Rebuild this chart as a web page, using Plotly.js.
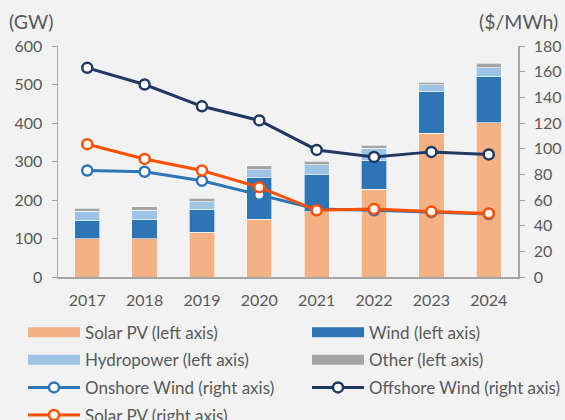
<!DOCTYPE html>
<html><head><meta charset="utf-8">
<script src="https://cdn.plot.ly/plotly-3.0.1.min.js"></script>
<style>html,body{margin:0;padding:0;background:#f2f2f2;}</style>
</head><body><div id="chart" style="width:565px;height:420px;"></div>
<script>
const years = ['2017','2018','2019','2020','2021','2022','2023','2024'];
const solarGW = [99, 100, 116, 150, 170, 228, 374, 401];
const windGW = [48, 50, 60, 108, 95, 74, 107, 120];
const hydroGW = [24, 23, 20, 21, 27, 32, 19, 22];
const otherGW = [7, 10, 8, 10, 9, 8, 6, 12];
const onshoreLCOE = [83, 82, 75, 64, 53, 52, 50.5, 49];
const offshoreLCOE = [163, 150, 133, 122, 99, 93.5, 97.5, 95.5];
const solarLCOE = [103.5, 92, 83, 70, 52, 53, 51, 49.5];

const cSolar='#F4B183', cWind='#2E75B6', cHydro='#9DC3E6', cOther='#A5A5A5';
const cOn='#2E75B6', cOff='#1F3864', cSolL='#FF5000';
function bar(name, y, color){ return {type:'bar', x: years, y, yaxis:'y', width:0.44, name, showlegend:false,
  marker:{color, line:{color:'rgba(255,255,255,0.6)', width:1}}}; }
function legBar(name, color, leg){ return {type:'scatter', mode:'lines', x:[null], y:[null], name, legend:leg, legendgroup:name,
  line:{color, width:11}, hoverinfo:'skip'}; }
function line(name, y, color, leg){ return {type:'scatter', mode:'lines+markers', x: years, y, yaxis:'y2', name, legend:leg, legendgroup:name,
  line:{color, width:3}, marker:{size:10, color:'#ffffff', line:{color, width:2.5}}}; }

const data = [
  bar('Solar PV (left axis)', solarGW, cSolar),
  bar('Wind (left axis)', windGW, cWind),
  bar('Hydropower (left axis)', hydroGW, cHydro),
  bar('Other (left axis)', otherGW, cOther),
  legBar('Solar PV (left axis)', cSolar, 'legend'),
  legBar('Wind (left axis)', cWind, 'legend2'),
  legBar('Hydropower (left axis)', cHydro, 'legend'),
  legBar('Other (left axis)', cOther, 'legend2'),
  line('Onshore Wind (right axis)', onshoreLCOE, cOn, 'legend'),
  line('Offshore Wind (right axis)', offshoreLCOE, cOff, 'legend2'),
  line('Solar PV (right axis)', solarLCOE, cSolL, 'legend')
];
const font = {family:'Lato, "Open Sans", sans-serif', size:16, color:'#595959'};
const legCommon = {orientation:'v', yanchor:'top', xanchor:'left', itemwidth:52, tracegroupgap:2.5,
  font:{size:17, color:'#595959'}, bgcolor:'rgba(0,0,0,0)', traceorder:'grouped'};
const layout = {
  width:565, height:420, barmode:'stack',
  paper_bgcolor:'#f2f2f2', plot_bgcolor:'#f2f2f2',
  margin:{l:58, r:47, t:46, b:143, autoexpand:false},
  font: font,
  xaxis:{type:'category', showline:true, linecolor:'#a6a6a6', linewidth:1.5, ticks:'', ticklabelstandoff:8, tickfont:{size:16}, showgrid:false, zeroline:false, fixedrange:true},
  yaxis:{range:[0,600], dtick:100, showline:true, linecolor:'#a6a6a6', linewidth:1.5, ticks:'outside', ticklen:5, tickcolor:'#a6a6a6', ticklabelstandoff:6, showgrid:false, zeroline:false, tickfont:{size:16}},
  yaxis2:{range:[0,180], dtick:20, overlaying:'y', side:'right', showline:true, linecolor:'#a6a6a6', linewidth:1.5, ticks:'outside', ticklen:5, tickcolor:'#a6a6a6', ticklabelstandoff:6, showgrid:false, zeroline:false, tickfont:{size:16}},
  legend:Object.assign({}, legCommon, {x:-0.0761, y:-0.163}),
  legend2:Object.assign({}, legCommon, {x:0.5413, y:-0.163}),
  annotations:[
    {text:'(GW)', xref:'paper', yref:'paper', x:-0.111, y:1.104, xanchor:'left', yanchor:'middle', showarrow:false, font:{size:19.5}},
    {text:'($/MWh)', xref:'paper', yref:'paper', x:1.0913, y:1.104, xanchor:'right', yanchor:'middle', showarrow:false, font:{size:19.5}}
  ],
  showlegend:true
};
Plotly.newPlot('chart', data, layout, {displayModeBar:false, staticPlot:true});
</script></body></html>
